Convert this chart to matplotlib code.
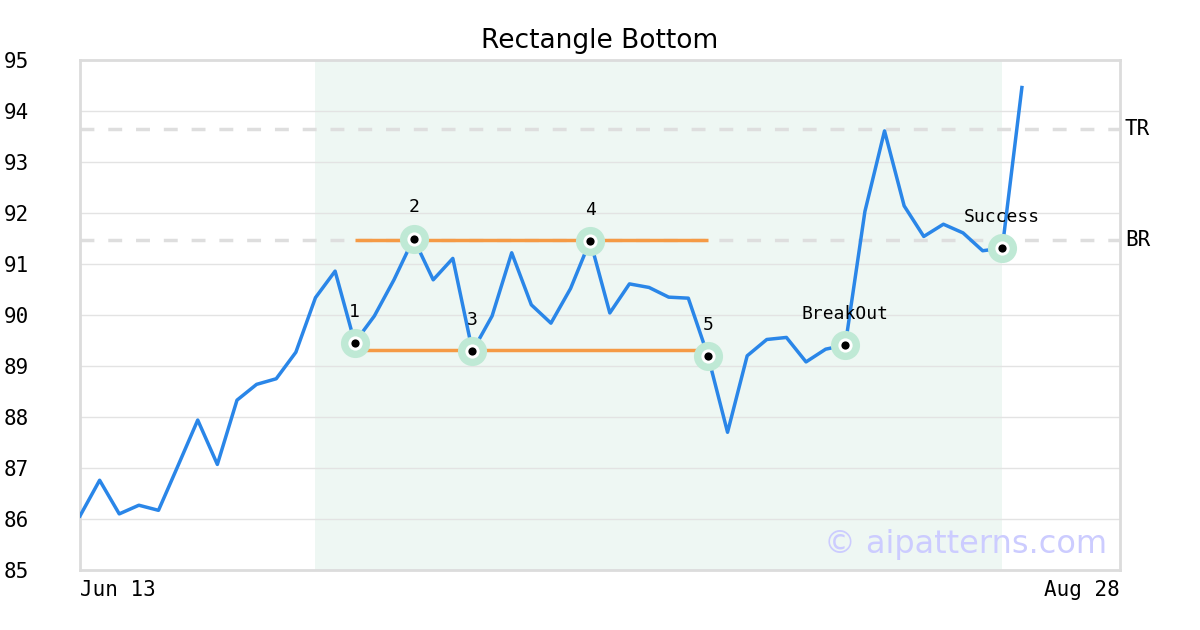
import matplotlib
matplotlib.use("Agg")
import matplotlib.pyplot as plt

# ---- data ----
prices = [86.06, 86.76, 86.10, 86.27, 86.17, 87.05, 87.94, 87.07, 88.33, 88.64,
          88.75, 89.27, 90.34, 90.86, 89.46, 89.98, 90.69, 91.50, 90.69, 91.11,
          89.29, 89.98, 91.22, 90.20, 89.84, 90.52, 91.46, 90.04, 90.61, 90.54,
          90.35, 90.33, 89.20, 87.70, 89.20, 89.52, 89.56, 89.08, 89.33, 89.41,
          92.03, 93.61, 92.14, 91.54, 91.78, 91.61, 91.26, 91.31, 94.46]
n_slots = 53
pivot_idx = [14, 17, 20, 26, 32, 39, 47]
pivot_labels = ["1", "2", "3", "4", "5", "BreakOut", "Success"]
shade_range = (12, 47)
top_line = (14, 32, 91.47)
bottom_line = (14, 32, 89.31)
tr_level = 93.64
br_level = 91.48
y_ticks = [85, 86, 87, 88, 89, 90, 91, 92, 93, 94, 95]
x_labels = ["Jun 13", "Aug 28"]
title = "Rectangle Bottom"

mono = "DejaVu Sans Mono"

fig = plt.figure(figsize=(12, 6.3), dpi=100)
ax = fig.add_axes([80 / 1200, 1 - 570 / 630, 1040 / 1200, 510 / 630])
ax.set_xlim(0, n_slots)
ax.set_ylim(85, 95)

ax.axvspan(shade_range[0], shade_range[1], color="#eef7f3", zorder=0, lw=0)
for y in y_ticks:
    ax.axhline(y, color="#e3e3e3", lw=1, zorder=1)

for lvl, name in [(tr_level, "TR"), (br_level, "BR")]:
    ax.axhline(lvl, color="#dedede", lw=2.5, ls=(0, (4, 4)), zorder=2)
    ax.text(n_slots + 0.25, lvl, name, family=mono, fontsize=15,
            ha="left", va="center", clip_on=False)

for (a, b, lvl) in [top_line, bottom_line]:
    ax.plot([a, b], [lvl, lvl], color="#f59a45", lw=2.5, zorder=3,
            solid_capstyle="butt")

xs = list(range(len(prices)))
ax.plot(xs, prices, color="#2a86e8", lw=2.5, zorder=4)

px = pivot_idx
py = [prices[i] for i in pivot_idx]
ax.scatter(px, py, s=440, color="#bfe9d5", zorder=5, lw=0)
ax.scatter(px, py, s=105, color="white", zorder=6, lw=0)
ax.scatter(px, py, s=35, color="black", zorder=7, lw=0)
for x, y, lab in zip(px, py, pivot_labels):
    ax.annotate(lab, (x, y), xytext=(0, 22), textcoords="offset pixels",
                ha="center", va="bottom", family=mono, fontsize=13, zorder=8)

ax.set_yticks(y_ticks)
ax.set_yticklabels([str(t) for t in y_ticks], family=mono, fontsize=15)
ax.tick_params(axis="y", length=0, pad=55)
for lab in ax.get_yticklabels():
    lab.set_horizontalalignment("left")

ax.set_xticks([0, n_slots])
ax.set_xticklabels(x_labels, family=mono, fontsize=15)
ax.tick_params(axis="x", length=0, pad=7)
xl = ax.get_xticklabels()
xl[0].set_horizontalalignment("left")
xl[1].set_horizontalalignment("right")

for s in ax.spines.values():
    s.set_color("#dcdcdc")
    s.set_linewidth(2)

ax.set_title(title, fontsize=19, family="DejaVu Sans", pad=9)

ax.text(0.988, 0.05, "\u00a9 aipatterns.com", transform=ax.transAxes,
        ha="right", va="center", fontsize=23, color="#ccccff",
        family="DejaVu Sans", zorder=9)

fig.savefig("out.png", dpi=100)
